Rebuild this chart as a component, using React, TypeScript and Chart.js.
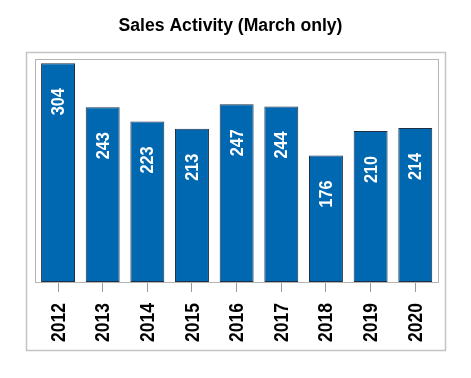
import React, { useEffect, useRef } from "react";
import { Chart, registerables } from "chart.js";

Chart.register(...registerables);

const categories = ["2012", "2013", "2014", "2015", "2016", "2017", "2018", "2019", "2020"];
const salesValues = [304, 243, 223, 213, 247, 244, 176, 210, 214];
const titleText = "Sales Activity (March only)";

const W = 471;
const H = 378;
const FONT = "'Liberation Sans', Arial, sans-serif";

const framePlugin = {
  id: "framePlugin",
  beforeDraw(chart: any) {
    const ctx = chart.ctx;
    ctx.save();
    ctx.fillStyle = "#ffffff";
    ctx.fillRect(0, 0, W, H);
    ctx.strokeStyle = "#c4c4c4";
    ctx.lineWidth = 1.5;
    ctx.strokeRect(26.5, 52.5, 419, 298);
    ctx.fillStyle = "#000000";
    ctx.font = "bold 17.6px " + FONT;
    ctx.textAlign = "center";
    ctx.textBaseline = "alphabetic";
    ctx.fillText(titleText, 230.5, 31);
    ctx.restore();
  },
  afterDraw(chart: any) {
    const ctx = chart.ctx;
    const a = chart.chartArea;
    ctx.save();
    ctx.strokeStyle = "#b4b4b4";
    ctx.lineWidth = 1;
    ctx.strokeRect(Math.round(a.left) - 0.5, Math.round(a.top) + 0.5, Math.round(a.right - a.left) + 1, Math.round(a.bottom - a.top));
    // category labels, rotated and slightly condensed
    const xs = chart.scales.x;
    ctx.fillStyle = "#000000";
    ctx.font = "bold 20px " + FONT;
    ctx.textAlign = "right";
    ctx.textBaseline = "middle";
    categories.forEach((c, i) => {
      const x = xs.getPixelForValue(i);
      ctx.save();
      ctx.translate(x, a.bottom + 21);
      ctx.rotate(-Math.PI / 2);
      ctx.scale(0.876, 1);
      ctx.fillText(c, 0, 1);
      ctx.restore();
    });
    ctx.restore();
  },
};

const valueLabelPlugin = {
  id: "valueLabelPlugin",
  afterDatasetsDraw(chart: any) {
    const ctx = chart.ctx;
    const meta = chart.getDatasetMeta(0);
    ctx.save();
    ctx.fillStyle = "#ffffff";
    ctx.font = "bold 18px " + FONT;
    ctx.textAlign = "right";
    ctx.textBaseline = "middle";
    meta.data.forEach((bar: any, i: number) => {
      ctx.save();
      ctx.translate(bar.x, bar.y + 25);
      ctx.rotate(-Math.PI / 2);
      ctx.scale(0.9, 1);
      ctx.fillText(String(salesValues[i]), 0, 1);
      ctx.restore();
    });
    ctx.restore();
  },
};

export default function App() {
  const ref = useRef<HTMLCanvasElement | null>(null);
  useEffect(() => {
    if (!ref.current) return;
    const chart = new Chart(ref.current, {
      type: "bar",
      data: {
        labels: categories,
        datasets: [
          {
            data: salesValues,
            backgroundColor: "#0067b1",
            borderColor: "#1d2f45",
            borderWidth: 1,
            borderSkipped: false,
            categoryPercentage: 1,
            barPercentage: 0.76,
          },
        ],
      },
      options: {
        responsive: false,
        animation: false,
        devicePixelRatio: 1,
        layout: { padding: { left: 35.7, right: 33.4, top: 59, bottom: 0 } },
        plugins: {
          legend: { display: false },
          title: { display: false },
          tooltip: { enabled: false },
        },
        scales: {
          x: {
            grid: {
              display: true,
              offset: false,
              drawOnChartArea: false,
              drawTicks: true,
              tickLength: 10,
              color: "#9a9a9a",
            },
            border: { display: false },
            ticks: { display: false },
            afterFit(scale: any) {
              scale.height = 96;
            },
          },
          y: {
            display: false,
            min: 0,
            max: 310,
          },
        },
      },
      plugins: [framePlugin, valueLabelPlugin],
    });
    return () => chart.destroy();
  }, []);
  return (
    <div style={{ position: "absolute", left: 0, top: 0, width: W, height: H }}>
      <canvas ref={ref} width={W} height={H} style={{ width: W, height: H, display: "block" }} />
    </div>
  );
}
